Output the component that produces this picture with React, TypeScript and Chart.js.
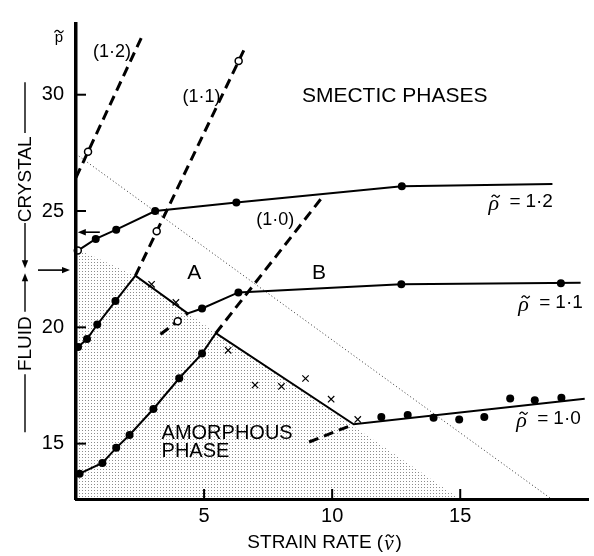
import React, { useEffect, useRef } from 'react';
import { Chart, registerables } from 'chart.js';
Chart.register(...registerables);

const SANS = '"Liberation Sans", Arial, Helvetica, sans-serif';
const SERIF = '"Liberation Serif", "Times New Roman", serif';

const X_MIN = 0;
const X_MAX = 20;
const Y_MIN = 12.62;
const Y_MAX = 33.04;
const xTickValues = [5, 10, 15];
const yTickValues = [15, 20, 25, 30];

// rho = 1.2 branch
const rho12Line = [[0.07, 23.3], [0.77, 23.8], [1.57, 24.2], [3.09, 25.0], [6.26, 25.37], [12.72, 26.07], [18.6, 26.16]];
const rho12Filled = [[0.77, 23.8], [1.57, 24.2], [3.09, 25.0], [6.26, 25.37], [12.72, 26.07]];
const rho12Open = [[0.07, 23.3]];

// rho = 1.1 branch
const rho11Line = [[0.08, 19.15], [0.43, 19.5], [0.83, 20.12], [1.54, 21.13], [2.32, 22.22], [4.36, 20.6], [4.92, 20.81], [6.34, 21.5], [12.7, 21.85], [19.7, 21.92]];
const rho11Filled = [[0.08, 19.15], [0.43, 19.5], [0.83, 20.12], [1.54, 21.13], [4.92, 20.81], [6.34, 21.5], [12.7, 21.85], [18.93, 21.9]];
const rho11Crosses = [[2.95, 21.85], [3.9, 21.07]];
const rho11Open = [[3.97, 20.26]];

// rho = 1.0 branch
const rho10Line = [[0.14, 13.71], [1.03, 14.17], [1.57, 14.82], [2.09, 15.37], [3.02, 16.49], [4.03, 17.81], [4.92, 18.87], [5.46, 19.75], [10.84, 15.83], [19.86, 16.93]];
const rho10Filled = [[0.14, 13.71], [1.03, 14.17], [1.57, 14.82], [2.09, 15.37], [3.02, 16.49], [4.03, 17.81], [4.92, 18.87],
  [11.92, 16.15], [12.95, 16.23], [13.96, 16.11], [14.96, 16.04], [15.94, 16.15], [16.95, 16.94], [17.91, 16.87], [18.95, 16.97]];
const rho10Crosses = [[5.94, 19.01], [6.99, 17.52], [8.02, 17.46], [8.96, 17.8], [9.96, 16.91], [11.0, 16.04]];

// dashed phase lines
const dash12 = [[0, 26.44], [2.64, 32.66]];
const dash12Open = [[0.47, 27.55]];
const dash11 = [[2.32, 22.22], [6.6, 32.02]];
const dash11Open = [[3.15, 24.13], [6.35, 31.45]];
const dash10 = [[5.46, 19.75], [9.69, 25.7]];
const dash11Low = [[3.3, 19.7], [4.36, 20.6]];
const dash10Low = [[9.1, 15.07], [10.84, 15.83]];

// dotted line and amorphous shading boundary
const dottedLine = [[0, 27.45], [18.56, 12.62]];
const shadeBoundary = [[0, 23.4], [2.32, 22.22], [4.36, 20.6], [15.0, 12.62]];

const pts = (a: number[][]) => a.map(([x, y]) => ({ x, y }));

const solid = (a: number[][]) => ({ data: pts(a), showLine: true, borderColor: '#000', borderWidth: 2, pointRadius: 0, fill: false, tension: 0 });
const dashed = (a: number[][]) => ({ ...solid(a), borderWidth: 3, borderDash: [10, 6] });
const filledPts = (a: number[][]) => ({ data: pts(a), showLine: false, pointStyle: 'circle', pointRadius: 4, pointBackgroundColor: '#000', pointBorderColor: '#000', pointBorderWidth: 0, clip: false });
const openPts = (a: number[][]) => ({ data: pts(a), showLine: false, pointStyle: 'circle', pointRadius: 3.5, pointBackgroundColor: '#fff', pointBorderColor: '#000', pointBorderWidth: 1.5, clip: false });
const crossPts = (a: number[][]) => ({ data: pts(a), showLine: false, pointStyle: 'crossRot', pointRadius: 4.5, pointBorderColor: '#000', pointBorderWidth: 1.2, clip: false });

function arrow(ctx: CanvasRenderingContext2D, x1: number, y1: number, x2: number, y2: number) {
  const ang = Math.atan2(y2 - y1, x2 - x1);
  const hl = 8, hw = 3.2;
  ctx.beginPath();
  ctx.moveTo(x1, y1);
  ctx.lineTo(x2 - Math.cos(ang) * hl * 0.8, y2 - Math.sin(ang) * hl * 0.8);
  ctx.stroke();
  ctx.beginPath();
  ctx.moveTo(x2, y2);
  ctx.lineTo(x2 - Math.cos(ang) * hl - Math.sin(ang) * hw, y2 - Math.sin(ang) * hl + Math.cos(ang) * hw);
  ctx.lineTo(x2 - Math.cos(ang) * hl + Math.sin(ang) * hw, y2 - Math.sin(ang) * hl - Math.cos(ang) * hw);
  ctx.closePath();
  ctx.fill();
}

function seg(ctx: CanvasRenderingContext2D, x1: number, y1: number, x2: number, y2: number) {
  ctx.beginPath();
  ctx.moveTo(x1, y1);
  ctx.lineTo(x2, y2);
  ctx.stroke();
}

function tilde(ctx: CanvasRenderingContext2D, cx: number, cy: number, w: number) {
  ctx.save();
  ctx.lineWidth = 1.3;
  ctx.beginPath();
  ctx.moveTo(cx - w / 2, cy + 1);
  ctx.quadraticCurveTo(cx - w / 4, cy - 2.6, cx, cy);
  ctx.quadraticCurveTo(cx + w / 4, cy + 2.6, cx + w / 2, cy - 1);
  ctx.stroke();
  ctx.restore();
}

const annotPlugin = {
  id: 'annot',
  afterDraw(chart: any) {
    const { ctx, chartArea } = chart;
    const xs = chart.scales.x, ys = chart.scales.y;
    const X = (v: number) => xs.getPixelForValue(v);
    const Y = (v: number) => ys.getPixelForValue(v);
    ctx.save();
    ctx.fillStyle = '#000';
    ctx.strokeStyle = '#000';
    ctx.lineCap = 'butt';

    // inward ticks
    ctx.lineWidth = 2;
    yTickValues.forEach((v) => seg(ctx, chartArea.left, Y(v), chartArea.left + 10, Y(v)));
    xTickValues.forEach((v) => seg(ctx, X(v), chartArea.bottom, X(v), chartArea.bottom - 10));

    ctx.textBaseline = 'middle';
    ctx.textAlign = 'left';

    // dashed line labels
    ctx.font = `18px ${SANS}`;
    ctx.fillText('(1·2)', X(0.66), Y(31.83));
    ctx.fillText('(1·1)', X(4.16), Y(29.88));
    ctx.fillText('(1·0)', X(7.04), Y(24.61));

    ctx.font = `21px ${SANS}`;
    ctx.fillText('SMECTIC PHASES', X(8.82), Y(29.92));
    ctx.textAlign = 'center';
    ctx.fillText('A', X(4.62), Y(22.33));
    ctx.fillText('B', X(9.49), Y(22.33));
    ctx.textAlign = 'left';
    ctx.font = `20px ${SANS}`;
    ctx.fillText('AMORPHOUS', X(3.34), Y(15.44));
    ctx.fillText('PHASE', X(3.34), Y(14.66));

    // rho labels
    const rhoLabel = (xv: number, yv: number, val: string) => {
      const px = X(xv), py = Y(yv);
      ctx.font = `italic 22px ${SERIF}`;
      ctx.fillText('ρ', px, py + 2);
      const w = ctx.measureText('ρ').width;
      tilde(ctx, px + w / 2 + 2, py - 6, 8);
      ctx.font = `19px ${SANS}`;
      ctx.fillText('=', px + 21, py);
      ctx.fillText(val, px + 37, py);
    };
    rhoLabel(16.1, 25.38, '1·2');
    rhoLabel(17.27, 21.05, '1·1');
    rhoLabel(17.19, 16.05, '1·0');

    // arrows near axis
    ctx.lineWidth = 1.6;
    arrow(ctx, X(0.93), Y(24.09), X(0.07), Y(24.09));
    arrow(ctx, chartArea.left - 38, Y(22.46), chartArea.left - 6, Y(22.46));

    // left vertical annotation
    const lx = chartArea.left - 51;
    ctx.lineWidth = 1.4;
    seg(ctx, lx, Y(30.54), lx, Y(28.35));
    arrow(ctx, lx, Y(24.49), lx, Y(22.54));
    arrow(ctx, lx, Y(20.67), lx, Y(22.33));
    seg(ctx, lx, Y(17.98), lx, Y(15.49));
    ctx.font = `19px ${SANS}`;
    ctx.textAlign = 'center';
    [['CRYSTAL', 26.36], ['FLUID', 19.3]].forEach(([t, v]) => {
      ctx.save();
      ctx.translate(lx, Y(v as number));
      ctx.rotate(-Math.PI / 2);
      ctx.fillText(t as string, 0, 1);
      ctx.restore();
    });

    // y axis title (p with tilde)
    ctx.font = `15px ${SANS}`;
    ctx.textBaseline = 'alphabetic';
    const pX = chartArea.left - 17;
    ctx.fillText('p', pX, chartArea.top + 18);
    tilde(ctx, pX, chartArea.top + 7.5, 9);

    // x axis title
    ctx.textBaseline = 'middle';
    ctx.textAlign = 'left';
    let cx = X(6.69);
    const ty = chartArea.bottom + 44;
    ctx.font = `19px ${SANS}`;
    ctx.fillText('STRAIN RATE (', cx, ty);
    cx += ctx.measureText('STRAIN RATE (').width + 1;
    ctx.font = `italic 21px ${SERIF}`;
    ctx.fillText('ν', cx, ty + 1);
    const nw = ctx.measureText('ν').width;
    tilde(ctx, cx + nw / 2 + 1, ty - 7, 8);
    cx += nw + 2;
    ctx.font = `19px ${SANS}`;
    ctx.fillText(')', cx, ty);

    ctx.restore();
  },
};

export default function App() {
  const ref = useRef<HTMLCanvasElement>(null);
  useEffect(() => {
    const canvas = ref.current;
    if (!canvas) return;
    const tile = document.createElement('canvas');
    tile.width = 3;
    tile.height = 3;
    const tctx = tile.getContext('2d')!;
    tctx.fillStyle = 'rgba(0,0,0,0.45)';
    tctx.fillRect(1, 1, 1, 1);
    const pattern = canvas.getContext('2d')!.createPattern(tile, 'repeat');

    const datasets: any[] = [
      filledPts(rho12Filled), filledPts(rho11Filled), filledPts(rho10Filled),
      openPts(rho12Open), openPts(rho11Open), openPts(dash12Open), openPts(dash11Open),
      crossPts(rho11Crosses), crossPts(rho10Crosses),
      solid(rho12Line), solid(rho11Line), solid(rho10Line),
      dashed(dash12), dashed(dash11), dashed(dash10), dashed(dash11Low), dashed(dash10Low),
      { data: pts(dottedLine), showLine: true, borderColor: '#333', borderWidth: 1, borderDash: [1, 2.5], pointRadius: 0, fill: false },
      { data: pts(shadeBoundary), showLine: true, borderWidth: 0, borderColor: 'rgba(0,0,0,0)', pointRadius: 0, fill: 'start', backgroundColor: pattern },
    ];

    const chart = new Chart(canvas, {
      type: 'scatter',
      data: { datasets },
      options: {
        animation: false,
        responsive: false,
        devicePixelRatio: 1,
        events: [],
        layout: { padding: { top: 7, right: 4, left: 0, bottom: 0 } },
        plugins: { legend: { display: false }, tooltip: { enabled: false } },
        scales: {
          x: {
            type: 'linear', min: X_MIN, max: X_MAX,
            afterBuildTicks: (s: any) => { s.ticks = xTickValues.map((v) => ({ value: v })); },
            afterFit: (s: any) => { s.height = 57; },
            grid: { display: false, drawTicks: false },
            border: { display: true, color: '#000', width: 3, z: 1 },
            ticks: { color: '#000', font: { family: SANS, size: 20 }, padding: 5, maxRotation: 0, autoSkip: false },
          },
          y: {
            type: 'linear', min: Y_MIN, max: Y_MAX,
            afterBuildTicks: (s: any) => { s.ticks = yTickValues.map((v) => ({ value: v })); },
            afterFit: (s: any) => { s.width = 76; },
            grid: { display: false, drawTicks: false },
            border: { display: true, color: '#000', width: 3.5, z: 1 },
            ticks: { color: '#000', font: { family: SANS, size: 20 }, padding: 12, autoSkip: false },
          },
        },
      } as any,
      plugins: [annotPlugin],
    });
    return () => chart.destroy();
  }, []);
  return (
    <div style={{ position: 'absolute', left: 0, top: 0, width: 594, height: 556, background: '#fff' }}>
      <canvas ref={ref} width={594} height={556} />
    </div>
  );
}
